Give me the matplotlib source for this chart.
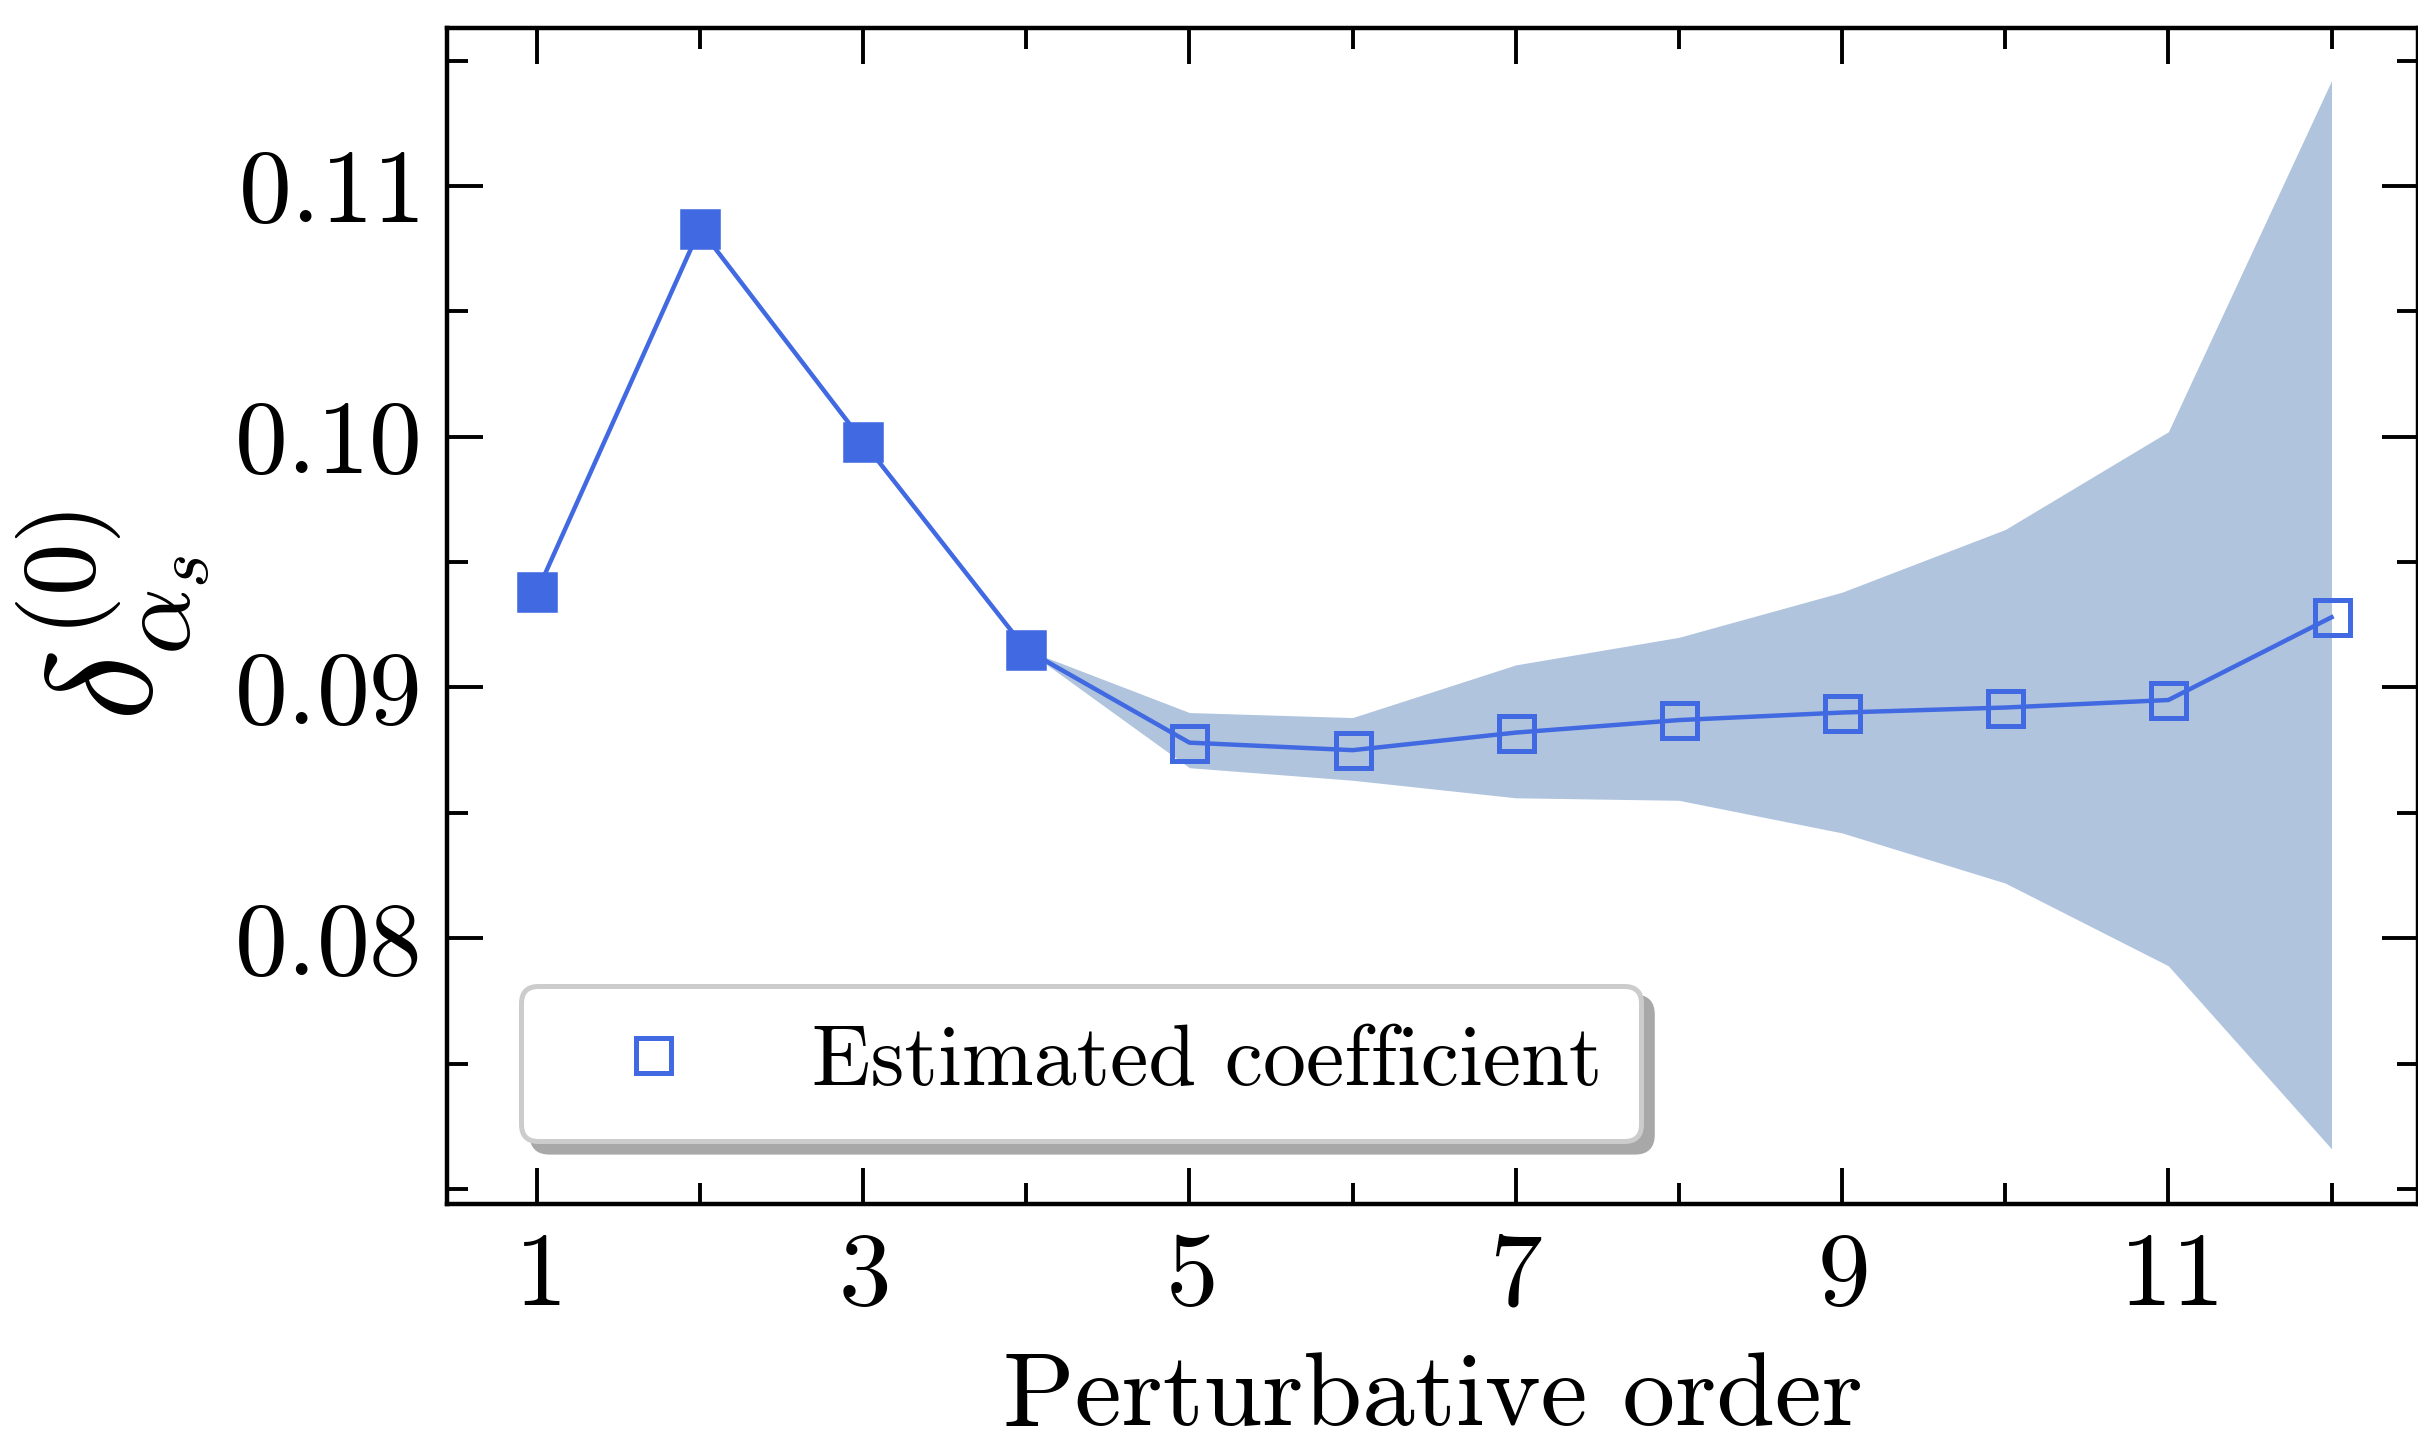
import numpy as np
import matplotlib
matplotlib.use("Agg")
import matplotlib.pyplot as plt
from matplotlib.ticker import MultipleLocator, FormatStrFormatter

plt.rcParams["font.family"] = "serif"
plt.rcParams["font.serif"] = ["cmr10"]
plt.rcParams["mathtext.fontset"] = "cm"
plt.rcParams["axes.formatter.use_mathtext"] = True

# data
orders = [1, 2, 3, 4, 5, 6, 7, 8, 9, 10, 11, 12]
coef = [0.0938, 0.1083, 0.0998, 0.0915, 0.0878, 0.0875,
        0.0882, 0.0887, 0.0890, 0.0892, 0.0895, 0.0928]
n_known = 4  # first orders are known exactly (filled markers)

band_x = [4, 5, 6, 7, 8, 9, 10, 11, 12]
band_hi = [0.0915, 0.0890, 0.0888, 0.0909, 0.0920, 0.0938, 0.0963, 0.1002, 0.1142]
band_lo = [0.0915, 0.0868, 0.0863, 0.0856, 0.0855, 0.0842, 0.0822, 0.0789, 0.0716]

xticks = [1, 3, 5, 7, 9, 11]
yticks = [0.08, 0.09, 0.10, 0.11]

col = "royalblue"
fig = plt.figure(figsize=(6.045, 3.61), dpi=400)
ax = fig.add_axes([0.1849, 0.1662, 0.8151, 0.8144])

ax.fill_between(band_x, band_lo, band_hi, color="lightsteelblue", lw=0, zorder=1)
ax.plot(orders, coef, color=col, lw=0.8, zorder=2)
ax.plot(orders[:n_known], coef[:n_known], "s", ms=6.3, color=col, zorder=3)
ax.plot(orders[n_known:], coef[n_known:], "s", ms=6.3, mfc="none",
        mec=col, mew=0.9, ls="none", zorder=3, label="Estimated coefficient")

ax.set_xlim(0.45, 12.53)
ax.set_ylim(0.0694, 0.1163)

ax.set_xticks(xticks)
ax.xaxis.set_minor_locator(MultipleLocator(1))
ax.set_yticks(yticks)
ax.yaxis.set_minor_locator(MultipleLocator(0.005))
ax.xaxis.set_major_formatter(FormatStrFormatter(r"$%d$"))
ax.yaxis.set_major_formatter(FormatStrFormatter(r"$%.2f$"))

ax.tick_params(which="both", direction="in", top=True, right=True,
               labelsize=19, width=0.7, pad=5)
ax.tick_params(which="major", length=6.5)
ax.tick_params(which="minor", length=3.8)
for s in ax.spines.values():
    s.set_linewidth(0.8)

ax.set_xlabel("Perturbative order", fontsize=19, labelpad=5)
ax.set_ylabel(r"$\delta^{(0)}_{\alpha_s}$", fontsize=27, labelpad=4)

leg = ax.legend(loc="lower left", bbox_to_anchor=(0.0375, 0.0536),
                borderaxespad=0, fontsize=15.5, handlelength=2.17,
                handletextpad=0.76, borderpad=0.45, fancybox=True,
                framealpha=1, edgecolor="#cccccc",
                shadow={"color": "#a8a8a8", "alpha": 1})
leg.get_frame().set_linewidth(0.9)

fig.savefig("out.png", dpi=400)
